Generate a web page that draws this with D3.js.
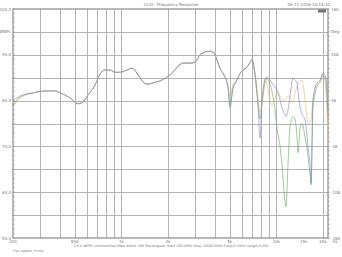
<!DOCTYPE html>
<html>
<head>
<meta charset="utf-8">
<script src="https://cdn.jsdelivr.net/npm/d3@7"></script>
<style>
  body { margin: 0; background: #fff; }
  text { font-family: "DejaVu Sans", sans-serif; fill: #777; }
</style>
</head>
<body>
<script>
var width = 342,
    height = 257,
    margin = {top: 9, right: 14, bottom: 19, left: 13};

// frequency points (Hz) shared by the three curves
var freq = [200, 222, 269, 322, 373, 402, 467, 525, 557, 609, 676, 728, 785, 845, 910,
  980, 1088, 1172, 1262, 1380, 1465, 1577, 1698, 1829, 1971, 2123, 2286, 2500, 2774,
  2987, 3217, 3466, 3733, 3962, 4140, 4326, 4592, 4875, 5024, 5248, 5572, 5834, 6096,
  6471, 6762, 6967, 7178, 7396, 7620, 7851, 8076, 8454, 8710, 9101, 9377, 9799, 10096,
  10568, 10867, 11376, 11537, 11885, 12244, 12796, 13181, 13586, 13800, 14221, 14653,
  15311, 16000, 16481, 16750, 17218, 18280, 19140, 20000, 20900, 21540];

// dB SPL, one value per frequency
var blueDb = [79.9, 81.0, 81.7, 82.1, 82.1, 81.7, 80.6, 79.3, 79.5, 81.2, 83.4, 85.8, 86.7, 86.7, 86.2,
  86.2, 86.7, 87.1, 86.0, 84.1, 83.6, 83.8, 84.1, 84.5, 85.2, 86.0, 87.3, 88.2, 88.2,
  88.4, 90.0, 90.6, 90.8, 90.4, 88.9, 87.1, 85.6, 83.0, 79.0, 82.8, 84.5, 86.0, 86.7,
  87.3, 88.4, 89.1, 87.3, 83.8, 78.6, 71.8, 80.0, 84.5, 85.2, 84.5, 83.8, 83.0, 82.3,
  80.1, 78.5, 76.9, 76.5, 77.9, 81.0, 84.9, 84.5, 83.8, 82.0, 78.6, 77.0,
  75.8, 70.0, 66.0, 61.6, 80.1, 83.8, 84.5, 86.0, 84.9, 77.9];

var orangeDb = [78.6, 80.5, 81.6, 82.1, 82.1, 81.7, 80.6, 79.4, 79.6, 81.2, 83.3, 85.7, 86.6, 86.6, 86.1,
  86.1, 86.6, 87.0, 85.9, 84.0, 83.6, 83.8, 84.1, 84.4, 85.1, 85.9, 87.2, 88.1, 88.1,
  88.3, 89.9, 90.5, 90.7, 90.3, 88.8, 87.0, 85.6, 83.4, 81.0, 83.5, 84.6, 86.0, 86.6,
  87.2, 88.3, 89.0, 87.6, 84.5, 80.5, 77.5, 79.5, 85.0, 83.5, 80.0, 79.0, 80.5, 82.0,
  81.0, 80.3, 80.1, 80.3, 81.0, 80.8, 79.5, 81.5, 83.0, 83.5, 84.2, 84.5,
  80.1, 75.1, 75.0, 76.0, 80.1, 83.8, 84.0, 86.0, 82.0, 71.4];

var greenDb = [78.9, 80.8, 81.7, 82.1, 82.1, 81.7, 80.6, 79.3, 79.5, 81.2, 83.4, 85.8, 86.7, 86.7, 86.2,
  86.2, 86.7, 87.1, 86.0, 84.1, 83.6, 83.8, 84.1, 84.5, 85.2, 86.0, 87.3, 88.2, 88.2,
  88.4, 90.0, 90.6, 90.8, 90.4, 88.9, 87.1, 85.6, 82.8, 78.4, 82.5, 84.4, 85.9, 86.7,
  87.3, 88.3, 88.8, 87.0, 83.5, 79.5, 76.0, 79.0, 84.0, 84.8, 83.5, 82.0, 78.0, 74.0,
  70.0, 66.0, 58.0, 56.8, 66.0, 74.0, 76.5, 76.0, 72.0, 68.6, 74.0, 75.0,
  72.0, 68.0, 64.0, 62.0, 78.0, 83.0, 84.0, 85.5, 84.0, 76.0];

// drawn in this order, blue last so the common part reads grey-blue
var series = [
  {name: "green", values: greenDb, color: "#6aaa62"},
  {name: "orange", values: orangeDb, color: "#e6bc78"},
  {name: "blue", values: blueDb, color: "#8088c4"}
];

var xTickValues = [200, 500, 1000, 2000, 5000, 10000, 15000, 20000],
    xTickLabels = ["200", "500", "1k", "2k", "5k", "10k", "15k", "20k"];
var yLeftValues = [50, 60, 70, 80, 90, 100],
    yRightLabels = ["-180", "-108", "-36", "36", "108", "180"];

var svg = d3.select("body").append("svg")
    .attr("width", width)
    .attr("height", height);

var x = d3.scaleLog()
    .domain([200, 21540])
    .range([margin.left, width - margin.right]);

var y = d3.scaleLinear()
    .domain([50, 100])
    .range([height - margin.bottom, margin.top]);

// grid
var gridX = [];
[100, 1000, 10000].forEach(function(d) {
  for (var k = 1; k <= 9; k++) {
    var v = d * k;
    if (v > 200 && v < 21540) gridX.push(v);
  }
});

svg.append("g").selectAll("line")
    .data(gridX)
    .enter().append("line")
    .attr("x1", function(d) { return Math.round(x(d)) + 0.5; })
    .attr("x2", function(d) { return Math.round(x(d)) + 0.5; })
    .attr("y1", y(100))
    .attr("y2", y(50))
    .attr("stroke", "#b4b4b4")
    .attr("stroke-width", 1);

svg.append("g").selectAll("line")
    .data(d3.range(55, 100, 5))
    .enter().append("line")
    .attr("x1", x(200))
    .attr("x2", x(21540))
    .attr("y1", function(d) { return Math.round(y(d)) + 0.5; })
    .attr("y2", function(d) { return Math.round(y(d)) + 0.5; })
    .attr("stroke", "#b4b4b4")
    .attr("stroke-width", 1);

// frame
svg.append("rect")
    .attr("x", x(200))
    .attr("y", y(100))
    .attr("width", x(21540) - x(200))
    .attr("height", y(50) - y(100))
    .attr("fill", "none")
    .attr("stroke", "#8a8a8a")
    .attr("stroke-width", 1.2);

// minor ticks left and right
svg.append("g").selectAll("line")
    .data(d3.range(50, 101, 1))
    .enter().append("line")
    .attr("x1", x(200))
    .attr("x2", x(200) + 2)
    .attr("y1", function(d) { return y(d); })
    .attr("y2", function(d) { return y(d); })
    .attr("stroke", "#999")
    .attr("stroke-width", 0.6);

svg.append("g").selectAll("line")
    .data(d3.range(50, 101, 1))
    .enter().append("line")
    .attr("x1", x(21540))
    .attr("x2", x(21540) + 2)
    .attr("y1", function(d) { return y(d); })
    .attr("y2", function(d) { return y(d); })
    .attr("stroke", "#999")
    .attr("stroke-width", 0.6);

// curves
var line = d3.line()
    .x(function(d) { return x(d[0]); })
    .y(function(d) { return y(d[1]); })
    .curve(d3.curveMonotoneX);

series.forEach(function(s) {
  svg.append("path")
      .datum(freq.map(function(f, i) { return [f, s.values[i]]; }))
      .attr("fill", "none")
      .attr("stroke", s.color)
      .attr("stroke-width", 0.9)
      .attr("stroke-opacity", 0.7)
      .attr("d", line);
});

// left axis labels
svg.append("g").selectAll("text")
    .data(yLeftValues)
    .enter().append("text")
    .attr("x", x(200) - 2)
    .attr("y", function(d) { return y(d) + 1.5; })
    .attr("text-anchor", "end")
    .attr("font-size", 4)
    .text(function(d) { return d.toFixed(1); });

svg.append("text")
    .attr("x", x(200) - 2)
    .attr("y", y(95) + 1.5)
    .attr("text-anchor", "end")
    .attr("font-size", 4)
    .text("dBSPL");

// right axis labels
svg.append("g").selectAll("text")
    .data(yLeftValues)
    .enter().append("text")
    .attr("x", x(21540) + 3)
    .attr("y", function(d) { return y(d) + 1.5; })
    .attr("font-size", 4)
    .text(function(d, i) { return yRightLabels[i]; });

svg.append("text")
    .attr("x", x(21540) + 3)
    .attr("y", y(95) + 1.5)
    .attr("font-size", 4)
    .text("Deg");

// x labels
svg.append("g").selectAll("text")
    .data(xTickValues)
    .enter().append("text")
    .attr("x", function(d) { return x(d); })
    .attr("y", y(50) + 5)
    .attr("text-anchor", "middle")
    .attr("font-size", 4)
    .text(function(d, i) { return xTickLabels[i]; });

svg.append("text")
    .attr("x", width - 7)
    .attr("y", y(50) + 5)
    .attr("text-anchor", "middle")
    .attr("font-size", 4)
    .text("Hz");

// title and notes
svg.append("text")
    .attr("x", 171)
    .attr("y", 6)
    .attr("text-anchor", "middle")
    .attr("font-size", 4)
    .text("CLIO - Frequency Response");

svg.append("text")
    .attr("x", 330)
    .attr("y", 6)
    .attr("text-anchor", "end")
    .attr("font-size", 4)
    .text("28-11-2016 10:14:32");

svg.append("rect")
    .attr("x", 318)
    .attr("y", 9.5)
    .attr("width", 8)
    .attr("height", 3)
    .attr("fill", "#777");

svg.append("text")
    .attr("x", 171)
    .attr("y", 247)
    .attr("text-anchor", "middle")
    .attr("font-size", 3.4)
    .text("CH A  dBSPL  Unsmoothed  Rate 48kHz  16K  Rectangular  Start 200.00Hz  Stop 20000.00Hz  FreqLO 10Hz  Length 5.00s");

svg.append("text")
    .attr("x", 13)
    .attr("y", 252)
    .attr("font-size", 3.4)
    .text("File: woofer_fr.mls");
</script>
</body>
</html>
